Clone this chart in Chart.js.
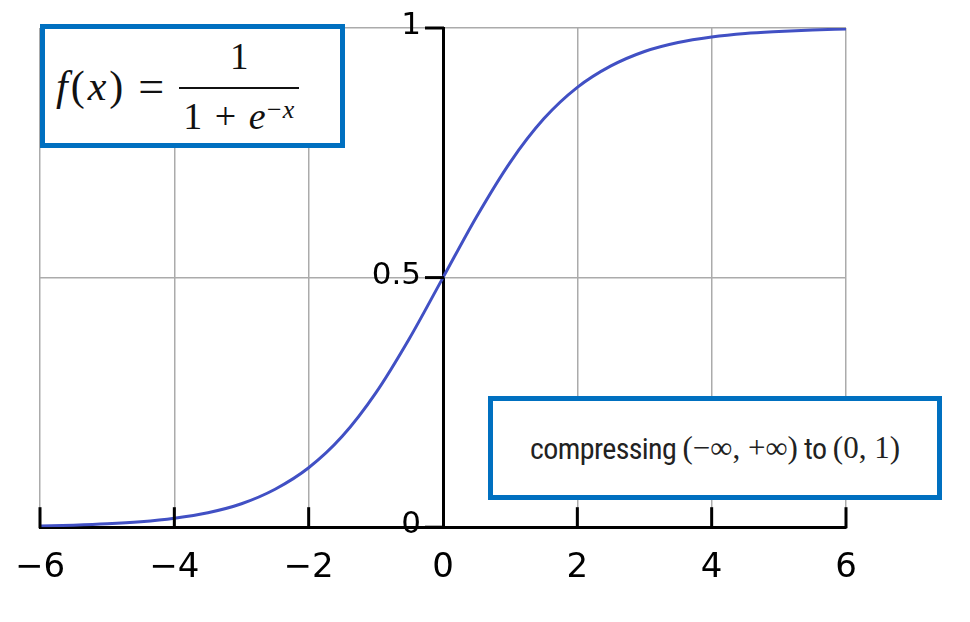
<!DOCTYPE html>
<html>
<head>
<meta charset="utf-8">
<script src="https://cdn.jsdelivr.net/npm/chart.js@4/dist/chart.umd.min.js"></script>
<style>
  html, body { margin: 0; padding: 0; background: #fff; }
  #wrap { position: relative; width: 970px; height: 622px; overflow: hidden; }
  canvas { position: absolute; left: 0; top: 0; }
  .note {
    position: absolute;
    box-sizing: border-box;
    border: 5px solid #0070c0;
    background: #fff;
    display: flex;
    align-items: center;
  }
  #formula { left: 40px; top: 24px; width: 305px; height: 124px; padding-left: 11px; }
  #formula .m { font-family: "Liberation Serif", "DejaVu Serif", serif; color: #111; }
  #formula .lhs { font-size: 42px; letter-spacing: 3px; }
  #formula .eq { font-size: 46px; margin-left: 12px; }
  #formula i { font-style: italic; }
  .frac { display: inline-flex; flex-direction: column; align-items: center; margin-left: 15px; font-size: 37px; }
  .frac .num { line-height: 40px; padding-bottom: 10px; }
  .frac .bar { width: 120px; height: 2px; background: #111; }
  .frac .den { font-size: 38px; line-height: 40px; padding-top: 7px; letter-spacing: 1.5px; }
  .frac sup { font-size: 26px; position: relative; top: -6px; vertical-align: top; letter-spacing: 1px; }
  #range { left: 488px; top: 396px; width: 454px; height: 104px; justify-content: center; }
  #range .t { font-family: "Liberation Sans Narrow", "Roboto Condensed", Roboto, sans-serif; font-size: 30px; color: #222; letter-spacing: -0.6px; }
  #range .s { font-family: "Liberation Serif", "DejaVu Serif", serif; font-size: 31px; color: #222; }
</style>
</head>
<body>
<div id="wrap">
  <canvas id="chart" width="970" height="622"></canvas>
  <div class="note" id="formula">
    <span class="m lhs"><i>f</i>(<i>x</i>)</span><span class="m eq">=</span>
    <span class="m frac">
      <span class="num">1</span>
      <span class="bar"></span>
      <span class="den">1 + <i>e</i><sup>−<i>x</i></sup></span>
    </span>
  </div>
  <div class="note" id="range">
    <span class="t">compressing&nbsp;</span><span class="s">(−∞, +∞)</span><span class="t">&nbsp;to&nbsp;</span><span class="s">(0, 1)</span>
  </div>
</div>
<script>
// curve samples
const xValues = [-6, -5.5, -5, -4.5, -4, -3.5, -3, -2.5, -2, -1.5, -1, -0.5, 0,
  0.5, 1, 1.5, 2, 2.5, 3, 3.5, 4, 4.5, 5, 5.5, 6];
const yValues = [0.0025, 0.0041, 0.0067, 0.011, 0.018, 0.029, 0.047, 0.076, 0.119, 0.182, 0.269, 0.378, 0.5,
  0.622, 0.731, 0.818, 0.881, 0.924, 0.953, 0.971, 0.982, 0.989, 0.993, 0.996, 0.998];
const xTicks = [-6, -4, -2, 0, 2, 4, 6];
const yTicks = [0, 0.5, 1];

const points = xValues.map((x, i) => ({ x: x, y: yValues[i] }));
const gridGrey = "#ababab";

// black tick marks (up on x, left on y) and the y labels next to the centre axis
const axisMarks = {
  id: "axisMarks",
  afterDraw(chart) {
    const xs = chart.scales.x;
    const ys = chart.scales.y;
    const ctx = chart.ctx;
    const base = ys.getPixelForValue(0);
    const axisX = xs.getPixelForValue(0);
    ctx.save();
    ctx.strokeStyle = "#000";
    ctx.lineWidth = 3;
    xTicks.forEach((t) => {
      if (t === 0) return;
      const px = xs.getPixelForValue(t);
      ctx.beginPath();
      ctx.moveTo(px, base + 1);
      ctx.lineTo(px, base - 20);
      ctx.stroke();
    });
    ctx.fillStyle = "#000";
    ctx.font = "31px 'DejaVu Sans'";
    ctx.textAlign = "right";
    ctx.textBaseline = "middle";
    yTicks.forEach((t) => {
      const py = ys.getPixelForValue(t);
      ctx.beginPath();
      ctx.moveTo(axisX + 1, py);
      ctx.lineTo(axisX - 18, py);
      ctx.stroke();
      ctx.fillText(String(t), axisX - 22, py - 2);
    });
    ctx.restore();
  },
};

new Chart(document.getElementById("chart"), {
  type: "line",
  data: {
    datasets: [
      {
        data: points,
        borderColor: "#4150c4",
        borderWidth: 3,
        pointRadius: 0,
        fill: false,
        cubicInterpolationMode: "monotone",
      },
    ],
  },
  options: {
    responsive: false,
    animation: false,
    layout: { padding: { left: 40, right: 124, top: 28, bottom: 12 } },
    plugins: { legend: { display: false }, tooltip: { enabled: false } },
    scales: {
      x: {
        type: "linear",
        min: -6,
        max: 6,
        afterBuildTicks: (scale) => {
          scale.ticks = xTicks.map((v) => ({ value: v }));
        },
        afterFit: (scale) => {
          scale.paddingLeft = 0;
          scale.paddingRight = 0;
        },
        ticks: {
          color: "#000",
          font: { family: "DejaVu Sans", size: 34 },
          padding: 21,
          callback: (v) => (v < 0 ? "\u2212" + Math.abs(v) : String(v)),
        },
        grid: {
          drawTicks: false,
          lineWidth: 1.5,
          color: (c) => (c.tick && c.tick.value === 0 ? "rgba(0,0,0,0)" : gridGrey),
        },
        border: { color: "#000", width: 3 },
      },
      y: {
        position: { x: 0 },
        min: 0,
        max: 1,
        afterBuildTicks: (scale) => {
          scale.ticks = yTicks.map((v) => ({ value: v }));
        },
        ticks: { display: false },
        grid: {
          drawTicks: false,
          lineWidth: 1.5,
          color: (c) => (c.tick && c.tick.value === 0 ? "rgba(0,0,0,0)" : gridGrey),
        },
        border: { color: "#000", width: 3 },
      },
    },
  },
  plugins: [axisMarks],
});
</script>
</body>
</html>
